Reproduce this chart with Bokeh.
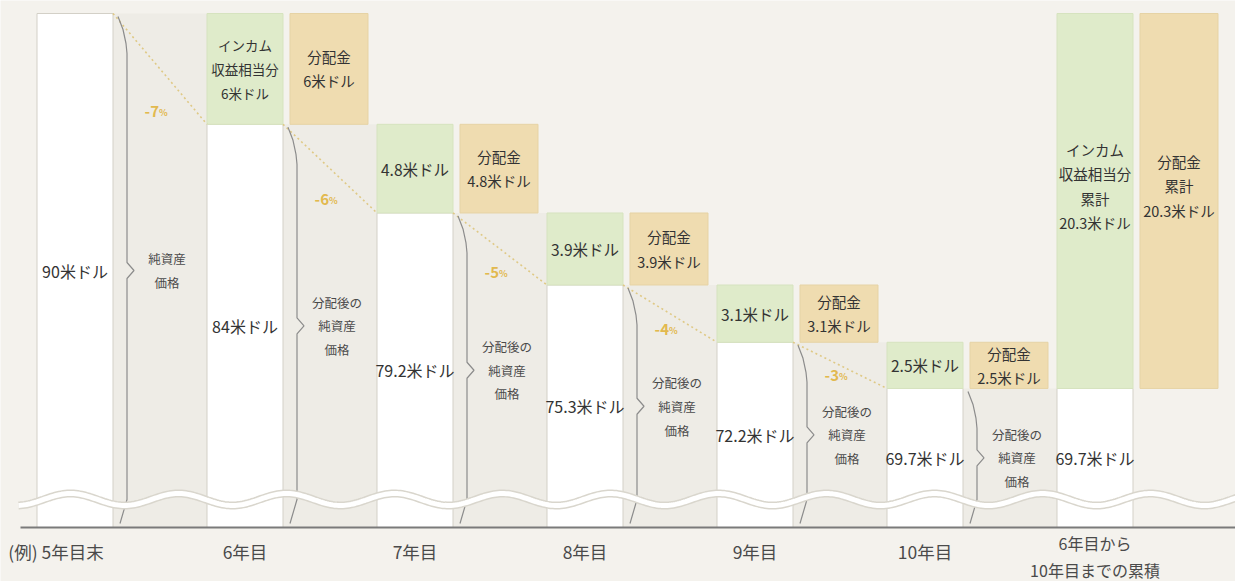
import numpy as np
from bokeh.plotting import figure
from bokeh.models import Range1d
from bokeh.core.properties import value
from bokeh.embed import file_html
from bokeh.resources import INLINE

# ---------------- data ----------------
categories = ["(例) 5年目末", "6年目", "7年目", "8年目", "9年目", "10年目",
              "6年目から\n10年目までの累積"]
nav = [90, 84, 79.2, 75.3, 72.2, 69.7]          # 純資産価格(米ドル)
income = [6, 4.8, 3.9, 3.1, 2.5]                # インカム収益相当分(米ドル)
dist = [6, 4.8, 3.9, 3.1, 2.5]                  # 分配金(米ドル)
change = [-7, -6, -5, -4, -3]                   # 純資産価格の変化(%)
total_income = 20.3                             # インカム収益相当分 累計
total_dist = 20.3                               # 分配金 累計
final_nav = 69.7                                # 10年目の分配後の純資産価格

# ---------------- layout constants ----------------
W, H = 1235, 581
PX = 170.0          # pixels per category step
K = 18.47           # pixels per 1 米ドル
C0 = 74.5           # pixel centre of first bar
TOP = 13            # pixel of the first bar's top
BW = 76 / PX        # bar width
OW = 78 / PX        # distribution box width
OOFF = 84 / PX      # distribution box offset from bar centre
BASE = nav[0] - 514 / K   # broken-axis baseline value


def dx(px):
    return px / PX


def dy(px):
    return px / K


FONT = value("Noto Sans CJK JP")
BG = "#f4f2ed"
BAND = "#eeece6"
GREEN = "#dfebca"
ORANGE = "#efdcb0"
EDGE = "#d3d0c7"
TXT = "#333333"
SUB = "#4a4a4a"
GOLD = "#e2b94e"

p = figure(width=W, height=H, output_backend="svg", toolbar_location=None,
           x_range=Range1d(-C0 / PX, (W - C0) / PX),
           y_range=Range1d(nav[0] - dy(H - TOP), nav[0] + dy(TOP)),
           min_border=0)
p.axis.visible = False
p.grid.visible = False
p.outline_line_color = None
p.background_fill_color = BG
p.border_fill_color = BG

n = len(nav)
idx = np.arange(n)

# bands between bars
p.quad(left=idx + BW / 2, right=idx + 1 - BW / 2, bottom=BASE, top=nav,
       fill_color=BAND, line_color=None)

# white NAV bars
wx = list(idx) + [n]
wtop = nav + [final_nav]
p.quad(left=[x - BW / 2 for x in wx], right=[x + BW / 2 for x in wx],
       bottom=BASE, top=wtop, fill_color="white", line_color=EDGE, line_width=1)

# green income boxes
gx = list(idx[1:]) + [n]
gb = nav[1:] + [final_nav]
gt = [b + v for b, v in zip(nav[1:], income)] + [final_nav + total_income]
p.quad(left=[x - BW / 2 for x in gx], right=[x + BW / 2 for x in gx],
       bottom=gb, top=gt, fill_color=GREEN, line_color="#d6e3bf", line_width=1)

# orange distribution boxes
ox = [x + OOFF for x in gx]
ot = [b + v for b, v in zip(nav[1:], dist)] + [final_nav + total_dist]
p.quad(left=[x - OW / 2 for x in ox], right=[x + OW / 2 for x in ox],
       bottom=gb, top=ot, fill_color=ORANGE, line_color="#e6d3a5", line_width=1)

# dotted decline lines
p.segment(x0=idx[:-1] + BW / 2, y0=nav[:-1], x1=idx[1:] - BW / 2, y1=nav[1:],
          line_color="#dfc986", line_width=1.6, line_dash="2 3")

# braces
bxs, bys = [], []
for i in range(n):
    mid = (nav[i] + BASE) / 2
    c = i
    bxs.append([c + dx(43), c + dx(48), c + dx(51), c + dx(52), c + dx(52),
                c + dx(59), c + dx(52), c + dx(52), c + dx(45)])
    bys.append([nav[i] - dy(3), nav[i] - dy(16), nav[i] - dy(30), nav[i] - dy(40),
                mid + dy(8), mid, mid - dy(8), BASE + dy(28), BASE + dy(4)])
p.multi_line(xs=bxs, ys=bys, line_color="#8c8c8c", line_width=1.2)

# wavy break line
wxp = np.linspace(18, W + 5, 600)
wy = BASE + dy(28) + dy(6) * np.sin(2 * np.pi * (wxp - 43) / 108)
wxd = (wxp - C0) / PX
p.line(wxd, wy, line_color="#d9d6cd", line_width=8)
p.line(wxd, wy, line_color="white", line_width=5)

# baseline
p.segment(x0=[(20 - C0) / PX], y0=[BASE], x1=[(W + 5 - C0) / PX], y1=[BASE],
          line_color="#7a7a7a", line_width=2)

# ---------------- texts ----------------
# NAV values in white bars
p.text(x=wx, y=[(t + BASE) / 2 for t in wtop],
       text=[f"{v:g}米ドル" for v in wtop], text_font=FONT, text_font_size="16px",
       text_color=TXT, text_align="center", text_baseline="middle")

# income labels
gl = [f"インカム\n収益相当分\n{income[0]:g}米ドル"] + [f"{v:g}米ドル" for v in income[1:]]
p.text(x=gx[:1], y=[(gb[0] + gt[0]) / 2], text=gl[:1], text_font=FONT,
       text_font_size="13.5px", text_color=TXT, text_align="center",
       text_baseline="middle", text_line_height=1.2)
p.text(x=gx[1:-1], y=[(b + t) / 2 for b, t in zip(gb[1:-1], gt[1:-1])], text=gl[1:],
       text_font=FONT, text_font_size="15.5px", text_color=TXT, text_align="center",
       text_baseline="middle")
p.text(x=[gx[-1]], y=[(gb[-1] + gt[-1]) / 2 + dy(15)],
       text=[f"インカム\n収益相当分\n累計\n{total_income:g}米ドル"], text_font=FONT,
       text_font_size="14.5px", text_color=TXT, text_align="center",
       text_baseline="middle", text_line_height=1.15)

# distribution labels
p.text(x=ox[:-1], y=[(b + t) / 2 for b, t in zip(gb[:-1], ot[:-1])],
       text=[f"分配金\n{v:g}米ドル" for v in dist], text_font=FONT,
       text_font_size="14.5px", text_color=TXT, text_align="center",
       text_baseline="middle", text_line_height=1.15)
p.text(x=[ox[-1]], y=[(gb[-1] + ot[-1]) / 2 + dy(15)],
       text=[f"分配金\n累計\n{total_dist:g}米ドル"], text_font=FONT,
       text_font_size="14.5px", text_color=TXT, text_align="center",
       text_baseline="middle", text_line_height=1.15)

# brace labels
bl = ["純資産\n価格"] + ["分配後の\n純資産\n価格"] * (n - 1)
p.text(x=idx + dx(92), y=[(v + BASE) / 2 for v in nav], text=bl, text_font=FONT,
       text_font_size="12.5px", text_color=SUB, text_align="center",
       text_baseline="middle", text_line_height=1.25)

# change percentages
py = [v + dy(13) for v in nav[1:]]
p.text(x=idx[:-1] + dx(84), y=py, text=[f"{c:g}" for c in change], text_font=FONT,
       text_font_size="15px", text_font_style="bold", text_color=GOLD,
       text_align="right", text_baseline="middle")
p.text(x=idx[:-1] + dx(84), y=[v - dy(1) for v in py], text=["%"] * len(change),
       text_font=FONT, text_font_size="9px", text_font_style="bold", text_color=GOLD,
       text_align="left", text_baseline="middle")

# category labels
cx = list(range(len(categories)))
p.text(x=[cx[0]], y=[BASE - dy(24)], text=[categories[0]], text_font=FONT,
       text_font_size="17.5px", text_color=SUB, text_align="center",
       text_baseline="middle", x_offset=-19)
p.text(x=cx[1:-1], y=[BASE - dy(24)] * (len(cx) - 2), text=categories[1:-1],
       text_font=FONT, text_font_size="17.5px", text_color=SUB, text_align="center",
       text_baseline="middle")
p.text(x=[cx[-1]], y=[BASE - dy(29)], text=[categories[-1]], text_font=FONT,
       text_font_size="16px", text_color=SUB, text_align="center",
       text_baseline="middle", text_line_height=1.1)

open("out.html", "w").write(file_html(p, INLINE))
